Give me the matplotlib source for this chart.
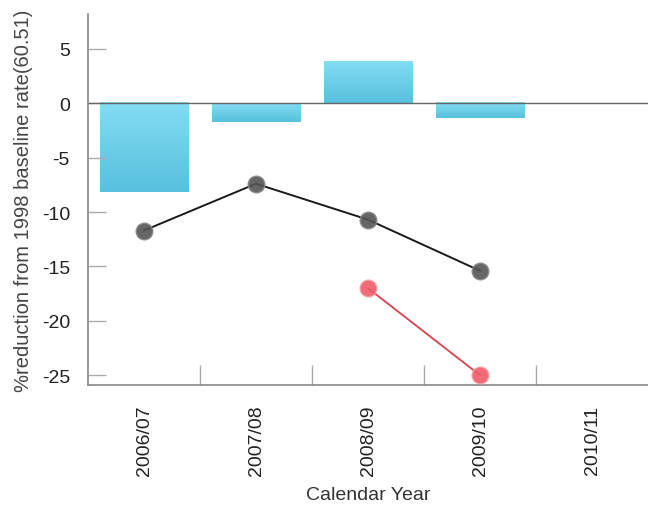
import numpy as np
import matplotlib.pyplot as plt
from matplotlib.colors import LinearSegmentedColormap

# data
years = ["2006/07", "2007/08", "2008/09", "2009/10", "2010/11"]
bar_values = [-8.2, -1.7, 3.8, -1.4]
black_values = [-11.7, -7.4, -10.7, -15.4]
red_years = ["2008/09", "2009/10"]
red_values = [-17.0, -25.0]

plt.rcParams['font.family'] = ['Liberation Sans', 'DejaVu Sans']

fig = plt.figure(figsize=(6.48, 5.06), dpi=100)
ax = fig.add_axes([88 / 648, 120 / 506, 560 / 648, 371 / 506])

x = np.arange(len(years))
bar_w = 0.79
cmap = LinearSegmentedColormap.from_list("bluegrad", ["#83dcf2", "#58c0de"])
grad = np.linspace(0, 1, 64).reshape(-1, 1)
for i, v in enumerate(bar_values):
    lo, hi = min(0, v), max(0, v)
    ax.imshow(grad, cmap=cmap, aspect='auto', interpolation='bicubic',
              extent=(x[i] - bar_w / 2, x[i] + bar_w / 2, lo, hi), zorder=1)

ax.axhline(0, color='#666666', lw=1.0, zorder=2)

ax.plot(x[:len(black_values)], black_values, color='#1a1a1a', lw=1.4, zorder=3)
ax.plot(x[:len(black_values)], black_values, 'o', ms=12, color='#555555',
        alpha=0.9, mec='#8a8a8a', mew=1.0, zorder=4)

red_x = [years.index(y) for y in red_years]
ax.plot(red_x, red_values, color='#d8404e', lw=1.3, zorder=3)
ax.plot(red_x, red_values, 'o', ms=12, color='#f05a68', alpha=0.9,
        mec='#f59aa3', mew=1.0, zorder=4)

ax.set_xlim(-0.5, len(years) - 0.5)
ax.set_ylim(-25.9, 8.2)

ax.set_yticks([5, 0, -5, -10, -15, -20, -25])
ax.set_yticklabels(["5", "0", "-5", "-10", "-15", "-20", "-25"])
ax.set_xticks(x)
ax.set_xticklabels(years, rotation=90)
ax.set_xticks(x[:-1] + 0.5, minor=True)

ax.tick_params(axis='y', direction='in', length=13, width=1, color='#aaaaaa',
               labelsize=14, labelcolor='#222222', pad=13)
ax.tick_params(axis='x', which='major', length=0, labelsize=14,
               labelcolor='#222222', pad=14)
ax.tick_params(axis='x', which='minor', direction='in', length=14.5, width=1,
               color='#aaaaaa')

for side in ['top', 'right']:
    ax.spines[side].set_visible(False)
for side in ['left', 'bottom']:
    ax.spines[side].set_color('#888888')
    ax.spines[side].set_linewidth(1.2)

ax.set_xlabel("Calendar Year", fontsize=14, color='#333333', labelpad=8)
ax.set_ylabel("%reduction from 1998 baseline rate(60.51)", fontsize=14.5,
              color='#444444', labelpad=6)

fig.savefig("out.png", dpi=100)
